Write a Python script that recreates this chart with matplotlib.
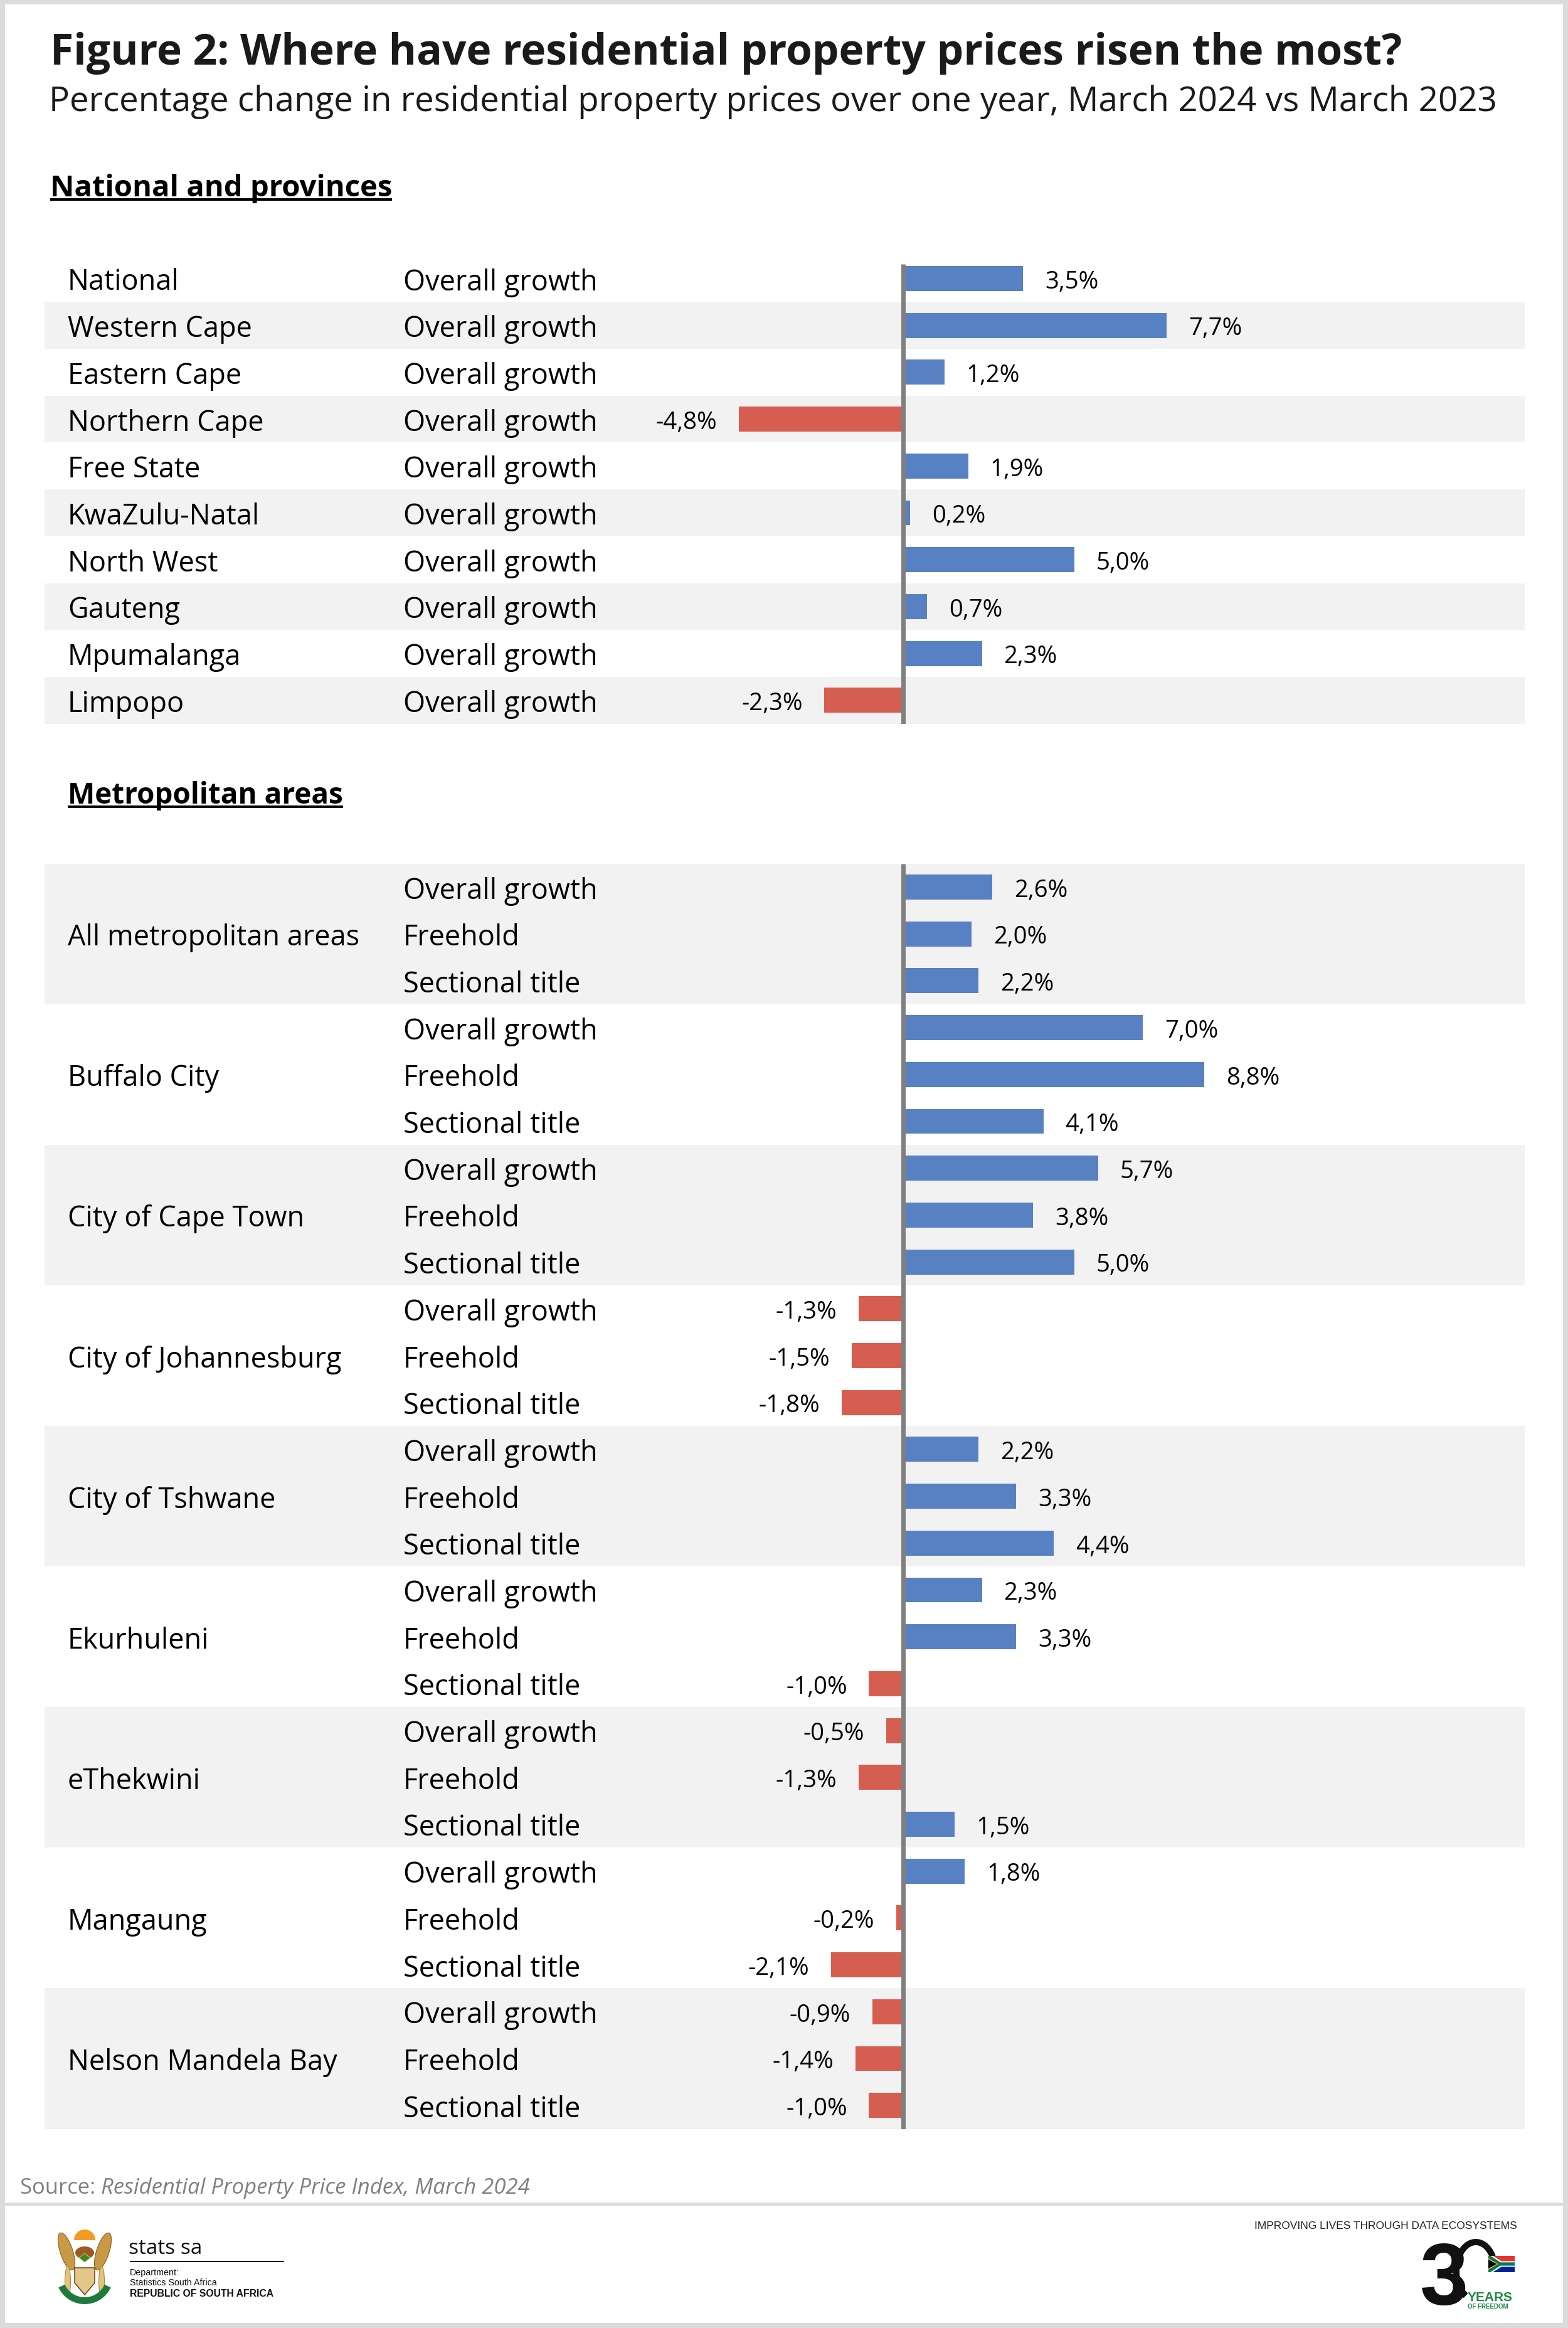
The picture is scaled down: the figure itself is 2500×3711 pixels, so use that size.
import matplotlib
matplotlib.use("Agg")
import matplotlib.pyplot as plt
from matplotlib.patches import Rectangle, Ellipse, Arc, Polygon, Wedge
import numpy as np

# ---------------- data ----------------
provinces = ["National", "Western Cape", "Eastern Cape", "Northern Cape", "Free State",
             "KwaZulu-Natal", "North West", "Gauteng", "Mpumalanga", "Limpopo"]
prov_category = "Overall growth"
prov_values = [3.5, 7.7, 1.2, -4.8, 1.9, 0.2, 5.0, 0.7, 2.3, -2.3]

metros = ["All metropolitan areas", "Buffalo City", "City of Cape Town", "City of Johannesburg",
          "City of Tshwane", "Ekurhuleni", "eThekwini", "Mangaung", "Nelson Mandela Bay"]
segments = ["Overall growth", "Freehold", "Sectional title"]
overall_growth = [2.6, 7.0, 5.7, -1.3, 2.2, 2.3, -0.5, 1.8, -0.9]
freehold = [2.0, 8.8, 3.8, -1.5, 3.3, 3.3, -1.3, -0.2, -1.4]
sectional_title = [2.2, 4.1, 5.0, -1.8, 4.4, -1.0, 1.5, -2.1, -1.0]

title = "Figure 2: Where have residential property prices risen the most?"
subtitle = "Percentage change in residential property prices over one year, March 2024 vs March 2023"
section1 = "National and provinces"
section2 = "Metropolitan areas"
source_lbl = "Source: "
source_txt = "Residential Property Price Index, March 2024"

# ---------------- style ----------------
W, H = 2500, 3712
DPI = 100
FONT = ["Open Sans", "DejaVu Sans"]
plt.rcParams["font.family"] = FONT
BLUE = "#5781c2"
RED = "#d55e50"
BAND = "#f2f2f2"
ZERO = "#7f7f7f"
TXT = "#000000"

fig = plt.figure(figsize=(W / DPI, H / DPI), dpi=DPI)
fig.patch.set_facecolor("white")


def fx(x):
    return x / W


def fy(y):
    return 1 - y / H


def fmt(v):
    return f"{v:.1f}".replace(".", ",") + "%"


# frame
for (x0, y0, w, h) in [(0, 0, W, 8), (0, H - 8, W, 8), (0, 0, 8, H), (W - 8, 0, 8, H),
                       (8, 3512, W - 16, 5)]:
    fig.patches.append(Rectangle((fx(x0), fy(y0 + h)), w / W, h / H, transform=fig.transFigure,
                                 facecolor="#dcdcdc", edgecolor="none", zorder=0))

# titles
fig.text(fx(80), fy(103), title, fontsize=48.7, fontweight="bold", color="#1a1a1a",
         ha="left", va="baseline")
fig.text(fx(78), fy(177), subtitle, fontsize=39.4, color="#1a1a1a", ha="left", va="baseline")
fig.canvas.draw()
renderer = fig.canvas.get_renderer()


def section_title(x, y, text, size):
    t = fig.text(fx(x), fy(y), text, fontsize=size, fontweight="bold", color=TXT,
                 ha="left", va="baseline")
    bb = t.get_window_extent(renderer=renderer)
    fig.patches.append(Rectangle((fx(x), fy(y + 8)), (bb.x1 - x) / W, 4 / H,
                                 transform=fig.transFigure, facecolor=TXT, edgecolor="none"))
    return t


section_title(80, 313, section1, 34)
section_title(108, 1281, section2, 33)

# ---------------- axes geometry ----------------
ROW = 74.7
PX_PER_PCT = 54.6
ZERO_X = 1440
AX_L, AX_R = 71, 2431
xlim = (-(ZERO_X - AX_L) / PX_PER_PCT, (AX_R - ZERO_X) / PX_PER_PCT)
BAR_H = 0.535
NAME_X = (108 - AX_L) / (AX_R - AX_L)
CAT_X = (643 - AX_L) / (AX_R - AX_L)
LBL_FS = 32.5
VAL_FS = 27.5


def make_axes(first_center_px, nrows):
    top = first_center_px - ROW / 2
    bottom = top + nrows * ROW
    ax = fig.add_axes([fx(AX_L), fy(bottom), (AX_R - AX_L) / W, (bottom - top) / H])
    ax.set_xlim(*xlim)
    ax.set_ylim(nrows - 0.5, -0.5)
    ax.axis("off")
    return ax


def value_labels(ax, ys, vals):
    for y, v in zip(ys, vals):
        off = 25 if v >= 0 else -25
        ax.annotate(fmt(v), xy=(v, y), xycoords="data", xytext=(off, -10.6),
                    textcoords="offset points", ha="left" if v >= 0 else "right",
                    va="baseline", fontsize=VAL_FS, color=TXT, zorder=5)


def row_label(ax, xfrac, y, text):
    ax.annotate(text, xy=(xfrac, y), xycoords=("axes fraction", "data"), xytext=(0, -12.6),
                textcoords="offset points", ha="left", va="baseline", fontsize=LBL_FS,
                color=TXT, zorder=5)


# ---- top section ----
ax1 = make_axes(445, len(provinces))
y1 = np.arange(len(provinces))
for i in y1:
    if i % 2 == 1:
        ax1.axhspan(i - 0.5, i + 0.5, facecolor=BAND, edgecolor="none", zorder=0)
ax1.barh(y1, prov_values, height=BAR_H,
         color=[BLUE if v >= 0 else RED for v in prov_values], zorder=2)
ax1.vlines(0, -0.31, len(provinces) - 0.5, colors=ZERO, linewidth=5, zorder=4)
value_labels(ax1, y1, prov_values)
for i, name in enumerate(provinces):
    row_label(ax1, NAME_X, i, name)
    row_label(ax1, CAT_X, i, prov_category)

# ---- bottom section ----
nseg = len(segments)
ax2 = make_axes(1415, len(metros) * nseg)
metro_values = np.array([overall_growth, freehold, sectional_title]).T.ravel()
y2 = np.arange(len(metro_values))
for g in range(len(metros)):
    if g % 2 == 0:
        ax2.axhspan(g * nseg - 0.5, g * nseg + nseg - 0.5, facecolor=BAND, edgecolor="none",
                    zorder=0)
ax2.barh(y2, metro_values, height=BAR_H,
         color=[BLUE if v >= 0 else RED for v in metro_values], zorder=2)
ax2.vlines(0, -0.5, len(metro_values) - 0.5, colors=ZERO, linewidth=5, zorder=4)
value_labels(ax2, y2, metro_values)
for g, name in enumerate(metros):
    row_label(ax2, NAME_X, g * nseg + 1, name)
    for s, seg in enumerate(segments):
        row_label(ax2, CAT_X, g * nseg + s, seg)

# ---------------- source ----------------
t = fig.text(fx(32), fy(3497), source_lbl, fontsize=24.9, color="#808080", ha="left",
             va="baseline")
bb = t.get_window_extent(renderer=renderer)
fig.text(bb.x1 / W, fy(3497), source_txt, fontsize=24.9, style="italic", color="#808080",
         ha="left", va="baseline")

# ---------------- footer: Stats SA ----------------
ARIAL = ["Liberation Sans", "DejaVu Sans"]
NARROW = ["Liberation Sans Narrow", "Liberation Sans", "DejaVu Sans"]
fig.text(fx(205), fy(3593), "stats sa", fontsize=24, color="#111111", ha="left", va="baseline",
         family=["Open Sans", "DejaVu Sans"])
fig.patches.append(Rectangle((fx(207), fy(3607)), 246 / W, 2.5 / H, transform=fig.transFigure,
                             facecolor="#111111", edgecolor="none"))
fig.text(fx(207), fy(3627), "Department:", fontsize=10.3, color="#111111", ha="left",
         va="baseline", family=ARIAL)
fig.text(fx(207), fy(3643), "Statistics South Africa", fontsize=10.3, color="#111111",
         ha="left", va="baseline", family=ARIAL)
fig.text(fx(207), fy(3661), "REPUBLIC OF SOUTH AFRICA", fontsize=11.3, fontweight="bold",
         color="#111111", ha="left", va="baseline", family=ARIAL)

# coat of arms (simplified drawing)
axc = fig.add_axes([fx(80), fy(3685), 110 / W, 145 / H])
axc.set_xlim(80, 190)
axc.set_ylim(3685, 3540)
axc.set_aspect("equal")
axc.axis("off")
axc.add_patch(Ellipse((106, 3590), 20, 62, angle=-18, facecolor="#c99a45", edgecolor="#8a5a1a",
                      lw=0.8))
axc.add_patch(Ellipse((164, 3590), 20, 62, angle=18, facecolor="#c99a45", edgecolor="#8a5a1a",
                      lw=0.8))
axc.add_patch(Wedge((135, 3572), 17, 180, 360, facecolor="#f39a23", edgecolor="none"))
axc.add_patch(Ellipse((135, 3592), 30, 20, facecolor="#9a5a22", edgecolor="none"))
axc.add_patch(Polygon([(126, 3600), (135, 3593), (144, 3600), (135, 3607)],
                      facecolor="#2f8a3c", edgecolor="#e0b030", lw=0.8))
axc.add_patch(Ellipse((108, 3638), 9, 48, facecolor="#e3c27a", edgecolor="#b08a3a", lw=0.8))
axc.add_patch(Ellipse((162, 3638), 9, 48, facecolor="#e3c27a", edgecolor="#b08a3a", lw=0.8))
axc.add_patch(Polygon([(119, 3616), (151, 3616), (151, 3640), (135, 3659), (119, 3640)],
                      facecolor="#e2c888", edgecolor="#7a4a1a", lw=1.2))
axc.add_patch(Wedge((135, 3628), 46, 25, 155, width=11, facecolor="#1e7a3a",
                    edgecolor="none"))

# ---------------- footer: 30 years ----------------
fig.text(fx(2419), fy(3553), "IMPROVING LIVES THROUGH DATA ECOSYSTEMS", fontsize=12.5,
         color="#222222", ha="right", va="baseline", family=NARROW)
axl = fig.add_axes([fx(2250), fy(3695), 175 / W, 130 / H])
axl.set_xlim(2250, 2425)
axl.set_ylim(3695, 3565)
axl.set_aspect("equal")
axl.axis("off")
axl.add_patch(Arc((2353, 3621), 62, 92, theta1=112, theta2=320, lw=7.2, color="#111111"))
axl.text(2302, 3673, "3", fontsize=100, fontweight="bold", color="#111111", ha="center",
         va="baseline", family=NARROW)


def flag_pt(u, v):
    return (2373 + 42 * u, 3597 + 26 * v)


def flag_poly(pts, color):
    axl.add_patch(Polygon([flag_pt(u, v) for u, v in pts], facecolor=color, edgecolor="none"))


flag_poly([(0, 0), (1, 0), (1, 0.5), (0, 0.5)], "#de3831")
flag_poly([(0, 0.5), (1, 0.5), (1, 1), (0, 1)], "#002395")
flag_poly([(0, 0), (0.17, 0), (0.5, 0.33), (1, 0.33), (1, 0.67), (0.5, 0.67), (0.17, 1),
           (0, 1)], "#ffffff")
flag_poly([(0, 0), (0.08, 0), (0.46, 0.4), (1, 0.4), (1, 0.6), (0.46, 0.6), (0.08, 1),
           (0, 1)], "#007a4d")
flag_poly([(0, 0.15), (0.38, 0.5), (0, 0.85)], "#ffb612")
flag_poly([(0, 0.22), (0.32, 0.5), (0, 0.78)], "#000000")

axl.text(2340, 3668, "YEARS", fontsize=15, fontweight="bold", color="#1b8a3e", ha="left",
         va="baseline", family=ARIAL)
axl.text(2340, 3680, "OF FREEDOM", fontsize=7, fontweight="bold", color="#1b8a3e", ha="left",
         va="baseline", family=ARIAL)

fig.savefig("out.png", dpi=DPI, facecolor="white")
